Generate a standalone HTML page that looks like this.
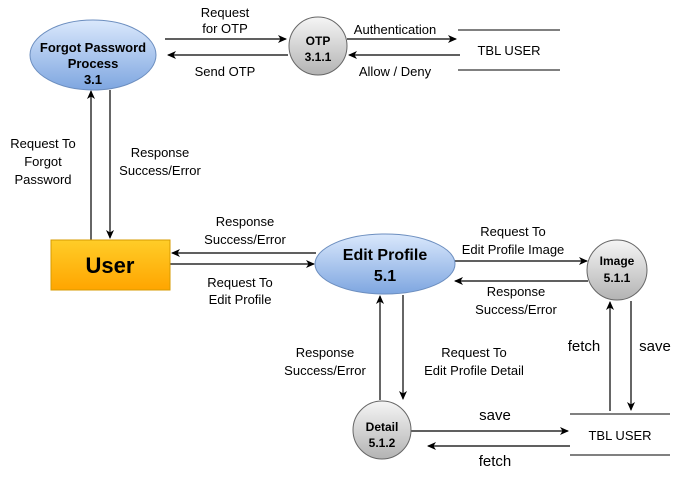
<!DOCTYPE html>
<html><head><style>body{margin:0;background:#fff}svg text{font-family:"Liberation Sans",Arial,sans-serif}</style></head><body>
<svg width="681" height="476" viewBox="0 0 681 476" xmlns="http://www.w3.org/2000/svg">
<defs>
<linearGradient id="b" x1="0" y1="0" x2="0" y2="1"><stop offset="0" stop-color="#dae8fc"/><stop offset="1" stop-color="#7ea6e0"/></linearGradient>
<linearGradient id="g" x1="0" y1="0" x2="0" y2="1"><stop offset="0" stop-color="#f5f5f5"/><stop offset="1" stop-color="#b3b3b3"/></linearGradient>
<linearGradient id="o" x1="0" y1="0" x2="0" y2="1"><stop offset="0" stop-color="#ffcd28"/><stop offset="1" stop-color="#ffa500"/></linearGradient>
<marker id="a" markerWidth="10" markerHeight="10" refX="8" refY="5" orient="auto" markerUnits="userSpaceOnUse"><path d="M0,1 L9,5 L0,9 L2.5,5 Z" fill="#000"/></marker>
</defs>
<g stroke="#000" stroke-width="1.2" fill="none" marker-end="url(#a)">
<line x1="165" y1="39" x2="286" y2="39"/>
<line x1="288" y1="55" x2="168" y2="55"/>
<line x1="347" y1="39" x2="456" y2="39"/>
<line x1="460" y1="55" x2="349" y2="55"/>
<line x1="91" y1="240" x2="91" y2="91"/>
<line x1="110" y1="90" x2="110" y2="238"/>
<line x1="316" y1="253" x2="172" y2="253"/>
<line x1="170" y1="264" x2="314" y2="264"/>
<line x1="455" y1="261" x2="587" y2="261"/>
<line x1="588" y1="281" x2="455" y2="281"/>
<line x1="380" y1="400" x2="380" y2="296"/>
<line x1="403" y1="295" x2="403" y2="399"/>
<line x1="410" y1="431" x2="568" y2="431"/>
<line x1="570" y1="446" x2="428" y2="446"/>
<line x1="610" y1="411" x2="610" y2="302"/>
<line x1="631" y1="301" x2="631" y2="410"/>
</g>
<ellipse cx="93" cy="55" rx="63" ry="35" fill="url(#b)" stroke="#6c8ebf"/>
<text x="93" y="52" text-anchor="middle" font-size="13" font-weight="bold">Forgot Password</text>
<text x="93" y="68" text-anchor="middle" font-size="13" font-weight="bold">Process</text>
<text x="93" y="84" text-anchor="middle" font-size="13" font-weight="bold">3.1</text>
<circle cx="318" cy="46" r="29" fill="url(#g)" stroke="#666"/>
<text x="318" y="45" text-anchor="middle" font-size="12" font-weight="bold">OTP</text>
<text x="318" y="61" text-anchor="middle" font-size="12" font-weight="bold">3.1.1</text>
<g stroke="#000"><line x1="458" y1="30" x2="560" y2="30"/><line x1="458" y1="70" x2="560" y2="70"/><line x1="570" y1="414" x2="670" y2="414"/><line x1="570" y1="455" x2="670" y2="455"/></g>
<text x="509" y="55" text-anchor="middle" font-size="13">TBL USER</text>
<text x="620" y="440" text-anchor="middle" font-size="13">TBL USER</text>
<rect x="51" y="240" width="119" height="50" fill="url(#o)" stroke="#d79b00"/>
<text x="110" y="273" text-anchor="middle" font-size="22" font-weight="bold">User</text>
<ellipse cx="385" cy="264" rx="70" ry="30" fill="url(#b)" stroke="#6c8ebf"/>
<text x="385" y="260" text-anchor="middle" font-size="16" font-weight="bold">Edit Profile</text>
<text x="385" y="281" text-anchor="middle" font-size="16" font-weight="bold">5.1</text>
<circle cx="617" cy="270" r="30" fill="url(#g)" stroke="#666"/>
<text x="617" y="265" text-anchor="middle" font-size="12" font-weight="bold">Image</text>
<text x="617" y="282" text-anchor="middle" font-size="12" font-weight="bold">5.1.1</text>
<circle cx="382" cy="430" r="29" fill="url(#g)" stroke="#666"/>
<text x="382" y="431" text-anchor="middle" font-size="12" font-weight="bold">Detail</text>
<text x="382" y="447" text-anchor="middle" font-size="12" font-weight="bold">5.1.2</text>
<g font-size="13" text-anchor="middle">
<text x="225" y="17">Request</text><text x="225" y="33">for OTP</text>
<text x="225" y="76">Send OTP</text>
<text x="395" y="34">Authentication</text>
<text x="395" y="76">Allow / Deny</text>
<text x="43" y="148">Request To</text><text x="43" y="166">Forgot</text><text x="43" y="184">Password</text>
<text x="160" y="157">Response</text><text x="160" y="175">Success/Error</text>
<text x="245" y="226">Response</text><text x="245" y="244">Success/Error</text>
<text x="240" y="287">Request To</text><text x="240" y="304">Edit Profile</text>
<text x="513" y="236">Request To</text><text x="513" y="254">Edit Profile Image</text>
<text x="516" y="296">Response</text><text x="516" y="314">Success/Error</text>
<text x="325" y="357">Response</text><text x="325" y="375">Success/Error</text>
<text x="474" y="357">Request To</text><text x="474" y="375">Edit Profile Detail</text>
</g>
<g font-size="15" text-anchor="middle">
<text x="495" y="420">save</text><text x="495" y="466">fetch</text>
<text x="584" y="351">fetch</text><text x="655" y="351">save</text>
</g>
</svg>
</body></html>
